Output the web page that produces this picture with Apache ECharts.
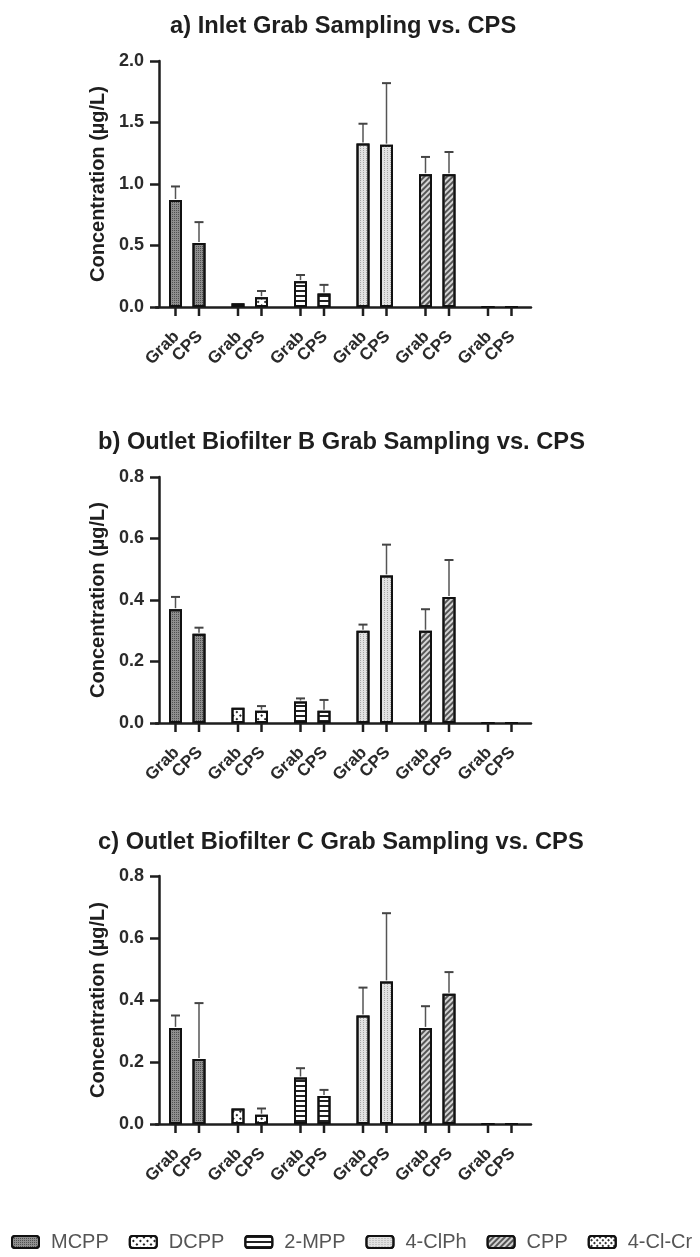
<!DOCTYPE html>
<html>
<head>
<meta charset="utf-8">
<script src="https://cdn.jsdelivr.net/npm/echarts@6/dist/echarts.min.js"></script>
<style>
  html, body { margin: 0; padding: 0; background: #fff; }
  #chart { width: 700px; height: 1257px; }
</style>
</head>
<body>
<div id="chart"></div>
<script>
// Compounds measured, and the two sampling methods compared for each
const compounds = ['MCPP', 'DCPP', '2-MPP', '4-ClPh', 'CPP', '4-Cl-Cr'];
const methods = ['Grab', 'CPS'];

const panelTitles = [
  'a) Inlet Grab Sampling vs. CPS',
  'b) Outlet Biofilter B Grab Sampling vs. CPS',
  'c) Outlet Biofilter C Grab Sampling vs. CPS'
];
const axisTitle = 'Concentration (µg/L)';
const axisMax = [2.0, 0.8, 0.8];
const axisStep = [0.5, 0.2, 0.2];

// a) Inlet, mean concentration (µg/L) and standard deviation
const inletGrab    = [0.87, 0.03, 0.21, 1.33, 1.08, 0];
const inletGrabSd  = [0.11, 0.00, 0.05, 0.16, 0.14, 0];
const inletCps     = [0.52, 0.08, 0.11, 1.32, 1.08, 0];
const inletCpsSd   = [0.17, 0.05, 0.07, 0.50, 0.18, 0];

// b) Outlet biofilter B
const outBGrab     = [0.37, 0.05, 0.07, 0.30, 0.30, 0];
const outBGrabSd   = [0.04, 0.00, 0.01, 0.02, 0.07, 0];
const outBCps      = [0.29, 0.04, 0.04, 0.48, 0.41, 0];
const outBCpsSd    = [0.02, 0.015, 0.035, 0.10, 0.12, 0];

// c) Outlet biofilter C
const outCGrab     = [0.31, 0.05, 0.15, 0.35, 0.31, 0];
const outCGrabSd   = [0.04, 0.00, 0.03, 0.09, 0.07, 0];
const outCCps      = [0.21, 0.03, 0.09, 0.46, 0.42, 0];
const outCCpsSd    = [0.18, 0.02, 0.02, 0.22, 0.07, 0];

const panels = [
  { grab: inletGrab, grabSd: inletGrabSd, cps: inletCps, cpsSd: inletCpsSd },
  { grab: outBGrab,  grabSd: outBGrabSd,  cps: outBCps,  cpsSd: outBCpsSd },
  { grab: outCGrab,  grabSd: outCGrabSd,  cps: outCCps,  cpsSd: outCCpsSd }
];

// ---- styling ----
const FONT = '"Liberation Sans", Arial, sans-serif';
const INK = '#1e1e1e';
const BAR_W = 13;          // bar body width in px
const BAR_GAP_PX = 10.5;   // space between the Grab and CPS bars
const BAR_SHIFT = (BAR_W + BAR_GAP_PX) / 2;

// Fill pattern for each compound
const compoundStyles = [
  { color: '#8e8e8e', decal: { symbol: 'rect', symbolSize: 1, dashArrayX: [1, 1], dashArrayY: [1, 1], color: '#505050', rotation: 0 } },
  { color: '#ffffff', decal: { symbol: 'rect', symbolSize: 1, dashArrayX: [[2, 3]], dashArrayY: [2, 3], color: '#222', rotation: Math.PI / 4 } },
  { color: '#ffffff', decal: { symbol: 'rect', symbolSize: 1, dashArrayX: [1, 0], dashArrayY: [2, 3], color: '#222', rotation: 0 } },
  { color: '#e2e2e2', decal: { symbol: 'rect', symbolSize: 1, dashArrayX: [1, 2], dashArrayY: [1, 1], color: '#a6a6a6', rotation: 0 } },
  { color: '#d4d4d4', decal: { symbol: 'rect', symbolSize: 1, dashArrayX: [1, 0], dashArrayY: [1.5, 2], color: '#555', rotation: -Math.PI / 4 } },
  { color: '#ffffff', decal: { symbol: 'rect', symbolSize: 1, dashArrayX: [[2, 2]], dashArrayY: [2, 2], color: '#333', rotation: Math.PI / 4 } }
];

const grids = [
  { left: 156, right: 169, top: 61,  height: 246 },
  { left: 156, right: 169, top: 477, height: 246 },
  { left: 156, right: 169, top: 876, height: 248 },
  { left: 0, top: 0, width: 1, height: 1, show: false } // holds the legend-only series
];

const titles = [
  { text: panelTitles[0], left: 165, top: 9 },
  { text: panelTitles[1], left: 93,  top: 425 },
  { text: panelTitles[2], left: 93,  top: 825 }
].map(t => Object.assign(t, {
  textStyle: { fontFamily: FONT, fontSize: 23.7, fontWeight: 'bold', color: INK }
}));

const xAxes = [0, 1, 2].map(g => ({
  type: 'category', gridIndex: g, data: compounds, boundaryGap: true,
  axisLine: { show: true, lineStyle: { color: INK, width: 2.5 } },
  axisTick: { show: false },
  axisLabel: { show: false },
  splitLine: { show: false }
}));
xAxes.push({ type: 'category', gridIndex: 3, data: compounds, show: false });

const yAxes = [0, 1, 2].map(g => ({
  type: 'value', gridIndex: g, min: 0, max: axisMax[g], interval: axisStep[g], offset: -3,
  name: axisTitle, nameLocation: 'middle', nameRotate: 90, nameGap: 44,
  nameTextStyle: { fontFamily: FONT, fontSize: 20, fontWeight: 'bold', color: INK },
  axisLine: { show: true, lineStyle: { color: INK, width: 2.5 } },
  axisTick: { show: true, length: 9, lineStyle: { color: INK, width: 2.5 } },
  axisLabel: { fontFamily: FONT, fontSize: 18, fontWeight: 'bold', color: '#2a2a2a', margin: 15,
               formatter: v => v.toFixed(1) },
  splitLine: { show: false }
}));
yAxes.push({ type: 'value', gridIndex: 3, show: false });

// Error bars, axis ticks under each bar and the rotated method labels
function renderMarks(params, api) {
  const cat = api.value(0), val = api.value(1), sd = api.value(2), m = api.value(3);
  const base = api.coord([cat, 0]);
  const top = api.coord([cat, val]);
  const hi = api.coord([cat, val + sd]);
  const x = base[0] + (m === 0 ? -BAR_SHIFT : BAR_SHIFT);
  const children = [
    { type: 'line', shape: { x1: x, y1: base[1], x2: x, y2: base[1] + 9 },
      style: { stroke: INK, lineWidth: 2.5 } },
    { type: 'text', x: x + 1, y: base[1] + 27, rotation: Math.PI / 4,
      style: { text: methods[m], align: 'right', verticalAlign: 'middle',
               font: 'bold 17px ' + FONT, fill: '#2a2a2a' } }
  ];
  if (sd > 0) {
    children.push(
      { type: 'line', shape: { x1: x, y1: top[1] - 1, x2: x, y2: hi[1] },
        style: { stroke: '#555', lineWidth: 1.5 } },
      { type: 'line', shape: { x1: x - 4.5, y1: hi[1], x2: x + 4.5, y2: hi[1] },
        style: { stroke: '#444', lineWidth: 2 } }
    );
  }
  return { type: 'group', children };
}

const series = [];
panels.forEach((p, g) => {
  [p.grab, p.cps].forEach((vals, m) => {
    series.push({
      type: 'bar', name: methods[m], xAxisIndex: g, yAxisIndex: g,
      barWidth: BAR_W, barGap: (BAR_GAP_PX / BAR_W * 100) + '%',
      itemStyle: { borderColor: '#111', borderWidth: 2 },
      data: vals.map((v, i) => ({
        value: v,
        itemStyle: { color: compoundStyles[i].color, decal: compoundStyles[i].decal,
                     borderColor: '#111', borderWidth: 2 }
      })),
      z: 2
    });
  });
  const marks = [];
  [[p.grab, p.grabSd], [p.cps, p.cpsSd]].forEach(([vals, sds], m) => {
    vals.forEach((v, i) => marks.push([i, v, sds[i], m]));
  });
  series.push({
    type: 'custom', xAxisIndex: g, yAxisIndex: g, clip: false, z: 3,
    encode: { x: 0, y: 1 }, renderItem: renderMarks, data: marks, silent: true
  });
});

// One empty series per compound so the legend shows each fill pattern
compounds.forEach((c, i) => {
  series.push({
    type: 'bar', name: c, xAxisIndex: 3, yAxisIndex: 3, data: [],
    itemStyle: { color: compoundStyles[i].color, decal: compoundStyles[i].decal,
                 borderColor: '#111', borderWidth: 3 }
  });
});

const chart = echarts.init(document.getElementById('chart'), null, { renderer: 'canvas' });
chart.setOption({
  animation: false,
  backgroundColor: '#ffffff',
  title: titles,
  grid: grids,
  xAxis: xAxes,
  yAxis: yAxes,
  legend: {
    data: compounds, left: 11, top: 1232, width: 1000, padding: 0, orient: 'horizontal',
    itemWidth: 27, itemHeight: 12, itemGap: 20, selectedMode: false,
    textStyle: { fontFamily: FONT, fontSize: 20, color: '#555', padding: [0, 0, 0, 7] }
  },
  series
});
</script>
</body>
</html>
